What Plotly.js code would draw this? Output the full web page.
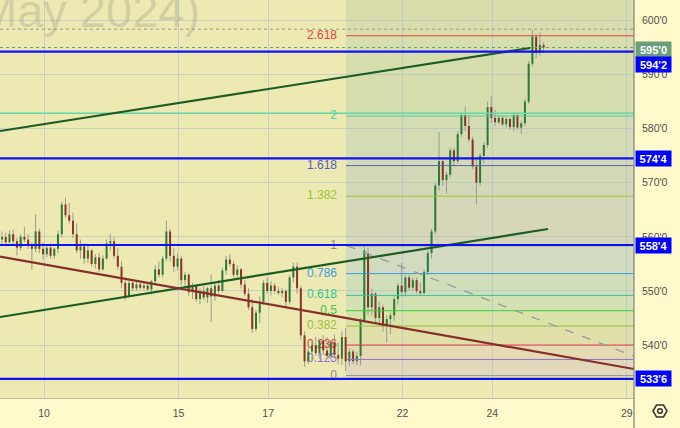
<!DOCTYPE html>
<html><head><meta charset="utf-8">
<script src="https://cdn.plot.ly/plotly-3.0.1.min.js"></script>
<style>html,body{margin:0;padding:0;background:#fefacb;}#chart{width:680px;height:428px;}</style>
</head><body><div id="chart"></div>
<script>
// ---- data (hourly-ish bars) ----
const OPEN = [
559.5,560.0,559.0,560.5,559.2,558.0,560.0,559.5,558.3,557.8,
561.0,557.8,556.8,558.0,556.5,557.8,560.5,566.0,564.0,563.0,
560.5,557.5,558.2,556.0,557.5,555.0,556.2,554.0,556.0,558.8,
559.2,556.5,554.5,551.5,549.0,551.5,550.5,551.2,550.6,551.0,
550.3,551.8,554.0,553.0,556.0,561.0,556.5,554.5,556.0,552.0,
553.0,549.8,551.0,548.5,550.0,548.8,550.5,549.0,551.0,550.0,
553.8,555.8,555.0,553.0,554.0,551.2,549.5,547.0,543.0,546.0,
548.0,551.5,550.0,551.0,550.0,549.6,550.0,548.0,552.5,554.5,
550.5,541.8,537.0,538.8,540.0,538.5,540.8,539.0,538.0,540.5,
538.2,537.5,541.5,537.0,538.8,537.0,538.0,544.5,557.0,547.0,
549.5,545.0,547.0,543.5,544.8,545.5,548.5,551.0,549.8,552.5,
550.6,552.0,550.0,549.6,553.5,557.0,561.0,569.5,574.0,570.5,
571.5,576.0,574.0,579.0,582.5,580.5,578.0,573.0,570.0,575.0,
577.0,584.0,582.0,581.2,582.0,580.8,581.8,580.3,582.5,580.2,
581.0,585.0,592.0,597.0,594.0,595.5];
const HIGH = [
561.0,560.8,561.2,561.4,559.8,560.5,561.8,560.5,559.0,564.2,
561.5,559.0,558.6,558.8,558.0,561.2,566.5,567.3,566.3,564.5,
562.5,559.5,558.8,558.3,557.8,556.8,557.0,556.6,559.5,560.5,
560.0,558.0,555.5,552.5,552.0,552.2,551.8,551.6,551.5,551.4,
552.0,554.8,555.5,556.5,563.0,561.5,558.0,557.0,556.5,553.5,
553.3,551.5,551.2,550.5,551.0,550.8,553.0,551.5,552.0,554.3,
556.5,556.8,555.5,554.8,554.3,552.0,550.5,548.5,546.5,549.0,
552.0,552.5,551.8,551.5,550.8,550.5,550.3,553.0,555.2,555.3,
551.0,542.5,539.5,541.0,541.5,541.2,541.8,541.5,541.0,542.0,
540.5,542.5,543.2,539.5,539.2,538.8,545.0,558.5,558.0,550.5,
549.8,548.0,547.5,545.5,546.0,549.0,551.5,555.2,553.0,553.0,
552.5,552.5,551.5,554.0,557.5,561.5,570.0,579.4,574.5,572.0,
576.5,576.5,579.5,583.0,584.0,582.5,578.5,574.5,575.5,577.5,
585.0,586.0,583.5,582.5,582.4,582.2,582.0,583.0,582.8,581.5,
585.5,592.5,598.3,597.5,597.8,596.0];
const LOW = [
558.5,558.6,558.8,558.7,556.6,557.5,559.0,557.8,553.9,557.2,
557.0,555.8,556.2,556.0,556.0,557.0,560.0,563.5,562.5,559.8,
557.0,556.0,555.0,555.2,554.5,554.2,553.5,553.8,555.8,557.5,
556.0,553.9,550.5,548.3,548.8,550.0,550.0,550.3,550.2,550.0,
549.4,551.0,552.5,552.5,555.5,555.5,553.5,553.8,551.0,550.8,
549.0,548.5,548.0,547.6,548.3,547.8,544.3,548.2,549.5,549.8,
553.0,554.5,552.5,552.5,550.5,549.0,546.5,542.3,542.5,544.0,
547.5,549.5,549.2,549.5,549.3,548.8,547.0,547.5,551.5,549.5,
541.0,536.0,536.5,537.0,538.0,537.5,538.2,537.5,537.3,537.5,
536.5,536.3,535.2,536.2,536.5,536.3,536.3,544.0,545.5,545.5,
544.0,543.5,542.5,540.5,542.0,544.5,547.5,549.0,549.0,550.0,
550.0,549.5,549.2,549.3,553.0,556.0,560.5,568.5,569.5,568.0,
571.0,573.0,573.5,578.5,579.5,577.5,572.5,566.0,569.5,573.5,
576.5,581.0,580.5,580.8,580.5,580.2,579.8,579.5,579.8,579.0,
580.5,584.5,591.5,593.0,593.5,594.0];
const CLOSE = [
560.0,559.0,560.5,559.2,558.0,560.0,559.5,558.3,557.8,561.0,
557.8,556.8,558.0,556.5,557.8,560.5,566.0,564.0,563.0,560.5,
557.5,558.2,556.0,557.5,555.0,556.2,554.0,556.0,558.8,559.2,
556.5,554.5,551.5,549.0,551.5,550.5,551.2,550.6,551.0,550.3,
551.8,554.0,553.0,556.0,561.0,556.5,554.5,556.0,552.0,553.0,
549.8,551.0,548.5,550.0,548.8,550.5,549.0,551.0,550.0,553.8,
555.8,555.0,553.0,554.0,551.2,549.5,547.0,543.0,546.0,548.0,
551.5,550.0,551.0,550.0,549.6,550.0,548.0,552.5,554.5,550.5,
541.8,537.0,538.8,540.0,538.5,540.8,539.0,538.0,540.5,538.2,
537.5,541.5,537.0,538.8,537.0,538.0,544.5,557.5,547.0,549.5,
545.0,547.0,543.5,544.8,545.5,548.5,551.0,549.8,552.5,550.6,
552.0,550.0,549.6,553.5,557.0,561.0,569.5,574.0,570.5,571.5,
576.0,574.0,579.0,582.5,580.5,578.0,573.0,570.0,575.0,577.0,
584.0,582.0,581.2,582.0,580.8,581.8,580.3,582.5,580.2,581.0,
585.0,592.0,597.0,594.0,595.5,595.0];

const DAY_LABELS = ['10','15','17','22','24','29'];
const DAY_POS = [11.25, 47.25, 71.25, 107.25, 131.25, 167.25];
const PRICE_TICKS = [540, 550, 560, 570, 580, 590, 600];
const PRICE_TICK_TEXT = ["540'0","550'0","560'0","570'0","580'0","590'0","600'0"];
const H_LEVELS = [594.25, 574.5, 558.5, 533.75];
const H_LABELS = ["594'2", "574'4", "558'4", "533'6"];
const LAST_PRICE = 595.0, LAST_LABEL = "595'0";
const HIGH_LINE = 598.4;
const AQUA_LINE = 582.85;
const FIB_START = 92.1, FIB_ZERO = 534.35, FIB_ONE = 558.35;
const FIB_RATIOS = [0, 0.125, 0.236, 0.382, 0.5, 0.618, 0.786, 1, 1.382, 1.618, 2, 2.618];
const FIB_TEXT = ['0','0.125','0.236','0.382','0.5','0.618','0.786','1','1.382','1.618','2','2.618'];
const TREND1_X = [-0.535, 141.4], TREND1_Y = [579.57, 594.92];
const TREND2_X = [-0.535, 146.2], TREND2_Y = [545.19, 561.46];
const TREND3_X = [-0.535, 169.2], TREND3_Y = [556.34, 535.58];
const FIBDIAG_X = [92.3, 169.2], FIBDIAG_Y = [558.37, 537.95];
const X_RANGE = [-0.535, 169.2];
const Y_RANGE = [530.22, 603.79];

// ---- styles ----
const FONT = 'Liberation Sans, Arial, sans-serif';
const FIB_COLORS = ['#8c8c8c','#8e6fd0','#e23c3c','#9fc23a','#3ec83e','#34c497','#3a9ee0','#8c8c8c','#9fc23a','#5560bb','#4fcf9d','#e0463f'];
const FIB_FILL = ['#e2d9bc','#e6dab2','#e1e0ab','#d9e2a8','#d2e2b2','#d0deba','#d2dbbf','#d6d7b8','#d3d9b6','#d4dcb3','#d7deae','#d9ddab'];

const fibPrice = r => FIB_ZERO + r * (FIB_ONE - FIB_ZERO);

// candles
const wx = [], wy = [], ux = [], uy = [], dx = [], dy = [];
for (let i = 0; i < OPEN.length; i++) {
  wx.push(i, i, null); wy.push(LOW[i], HIGH[i], null);
  if (CLOSE[i] >= OPEN[i]) { ux.push(i, i, null); uy.push(OPEN[i], CLOSE[i], null); }
  else { dx.push(i, i, null); dy.push(OPEN[i], CLOSE[i], null); }
}

const traces = [
  { x: FIB_RATIOS.map(() => FIB_START - 2.4), y: FIB_RATIOS.map(fibPrice), text: FIB_TEXT,
    mode: 'text', type: 'scatter', textposition: 'middle left', cliponaxis: false,
    textfont: { family: FONT, size: 12, color: FIB_COLORS }, hoverinfo: 'skip' },
  { x: wx, y: wy, mode: 'lines', type: 'scatter', line: { color: '#9b9b92', width: 1 }, hoverinfo: 'skip' },
  { x: ux, y: uy, mode: 'lines', type: 'scatter', line: { color: '#2b7a35', width: 2 }, hoverinfo: 'skip' },
  { x: dx, y: dy, mode: 'lines', type: 'scatter', line: { color: '#8b3326', width: 2 }, hoverinfo: 'skip' }
];

const shapes = [];
// fib fills
const tops = FIB_RATIOS.slice(1).map(fibPrice).concat([Y_RANGE[1] + 5]);
FIB_RATIOS.forEach((r, k) => {
  shapes.push({ type: 'rect', xref: 'x', yref: 'y', x0: FIB_START, x1: X_RANGE[1] + 2,
    y0: fibPrice(r), y1: tops[k], fillcolor: FIB_FILL[k], line: { width: 0 }, layer: 'below' });
});
// fib level lines
FIB_RATIOS.forEach((r, k) => {
  shapes.push({ type: 'line', xref: 'x', yref: 'y', x0: FIB_START, x1: X_RANGE[1] + 2,
    y0: fibPrice(r), y1: fibPrice(r), line: { color: FIB_COLORS[k], width: 1 }, layer: 'above' });
});
// dotted high / last price
shapes.push({ type: 'line', xref: 'x', yref: 'y', x0: X_RANGE[0], x1: X_RANGE[1], y0: HIGH_LINE, y1: HIGH_LINE,
  line: { color: '#9a9a8a', width: 1, dash: 'dot' }, layer: 'above' });
shapes.push({ type: 'line', xref: 'x', yref: 'y', x0: X_RANGE[0], x1: X_RANGE[1], y0: LAST_PRICE, y1: LAST_PRICE,
  line: { color: '#6a9f7b', width: 1, dash: 'dot' }, layer: 'above' });
// aqua line
shapes.push({ type: 'line', xref: 'x', yref: 'y', x0: X_RANGE[0], x1: X_RANGE[1], y0: AQUA_LINE, y1: AQUA_LINE,
  line: { color: '#62d6a6', width: 1.6 }, layer: 'above' });
// dashed fib diagonal
shapes.push({ type: 'line', xref: 'x', yref: 'y', x0: FIBDIAG_X[0], x1: FIBDIAG_X[1], y0: FIBDIAG_Y[0], y1: FIBDIAG_Y[1],
  line: { color: '#9a9a9a', width: 1.3, dash: 'dash' }, layer: 'above' });
// trend lines
[[TREND1_X, TREND1_Y, '#1f5c25'], [TREND2_X, TREND2_Y, '#1f5c25'], [TREND3_X, TREND3_Y, '#85302a']].forEach(t => {
  shapes.push({ type: 'line', xref: 'x', yref: 'y', x0: t[0][0], x1: t[0][1], y0: t[1][0], y1: t[1][1],
    line: { color: t[2], width: 2.2 }, layer: 'above' });
});
// blue horizontals
H_LEVELS.forEach(v => {
  shapes.push({ type: 'line', xref: 'x', yref: 'y', x0: X_RANGE[0], x1: X_RANGE[1], y0: v, y1: v,
    line: { color: '#1010f5', width: 2.2 }, layer: 'above' });
});
// right separator
shapes.push({ type: 'line', xref: 'paper', yref: 'paper', x0: 1, x1: 1, y0: -0.08, y1: 1,
  line: { color: '#8a8a80', width: 1.3 }, layer: 'above' });
// gear icon
const gx = 660 / 634, gy = 1 - 411 / 398;
shapes.push({ type: 'path', xref: 'paper', yref: 'paper', xsizemode: 'pixel', ysizemode: 'pixel',
  xanchor: gx, yanchor: gy, path: 'M -7 0 L -3.5 6 L 3.5 6 L 7 0 L 3.5 -6 L -3.5 -6 Z',
  line: { color: '#333333', width: 1.5 } });
shapes.push({ type: 'circle', xref: 'paper', yref: 'paper', xsizemode: 'pixel', ysizemode: 'pixel',
  xanchor: gx, yanchor: gy, x0: -2.3, x1: 2.3, y0: -2.3, y1: 2.3, line: { color: '#333333', width: 1.5 } });

const annotations = [
  { xref: 'paper', yref: 'paper', x: 0, y: 1, xanchor: 'left', yanchor: 'top', xshift: -24, yshift: 18,
    text: 'May 2024)', showarrow: false, font: { family: FONT, size: 47, color: 'rgba(120,120,110,0.22)' } },
  { xref: 'paper', yref: 'y', x: 1, y: LAST_PRICE, xanchor: 'left', xshift: 1, yshift: -1.5,
    text: '<b>' + LAST_LABEL + '</b>', showarrow: false, bgcolor: '#6a9f7b', width: 33, height: 13, borderpad: 1,
    font: { family: FONT, size: 11, color: '#ffffff' } }
];
H_LABELS.forEach((t, k) => {
  annotations.push({ xref: 'paper', yref: 'y', x: 1, y: H_LEVELS[k], xanchor: 'left', xshift: 1,
    yshift: k === 0 ? -13 : 0, text: '<b>' + t + '</b>', showarrow: false, bgcolor: '#0000ff',
    width: 33, height: 13, borderpad: 1, font: { family: FONT, size: 11, color: '#ffffff' } });
});

const layout = {
  width: 680, height: 428,
  margin: { l: 0, r: 46, t: 0, b: 30 },
  paper_bgcolor: '#fefacb', plot_bgcolor: '#ece9b2',
  showlegend: false,
  font: { family: FONT },
  xaxis: { range: X_RANGE, tickvals: DAY_POS, ticktext: DAY_LABELS, showgrid: true,
    gridcolor: 'rgba(165,180,210,0.45)', zeroline: false, showline: true, linecolor: '#bdbba2', linewidth: 1,
    ticks: '', ticklabelstandoff: 5, tickfont: { family: FONT, size: 10.5, color: '#505050' }, fixedrange: true },
  yaxis: { range: Y_RANGE, side: 'right', tickvals: PRICE_TICKS, ticktext: PRICE_TICK_TEXT, showgrid: true,
    gridcolor: 'rgba(165,180,210,0.45)', zeroline: false, showline: false,
    ticks: '', ticklabelstandoff: 7, tickfont: { family: FONT, size: 10.5, color: '#505050' }, fixedrange: true },
  shapes: shapes,
  annotations: annotations
};

Plotly.newPlot('chart', traces, layout, { staticPlot: true, displayModeBar: false });
</script>
</body></html>
